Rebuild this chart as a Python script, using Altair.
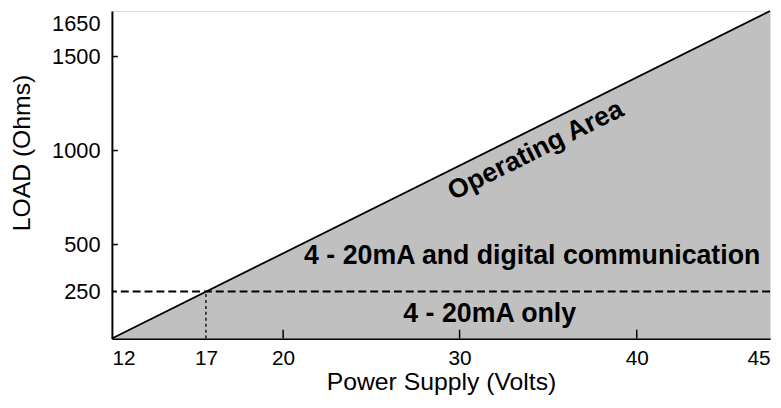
import altair as alt
import pandas as pd

# ---- data ----
volts = [12, 45]
load = [0, 1650]
threshold_volts = 17
threshold_load = 250
x_ticks = [12, 17, 20, 30, 40, 45]
y_ticks = [250, 500, 1000, 1500, 1650]
inner_x_ticks = [20, 30, 40]
inner_y_ticks = [500, 1000, 1500]
region_labels = ["Operating Area", "4 - 20mA and digital communication", "4 - 20mA only"]
region_x = [34.3, 34.1, 31.7]
region_y = [1000, 395, 88]
region_angle = [333.5, 0, 0]
region_baseline = ["middle", "alphabetic", "alphabetic"]

W, H = 665, 331
FONT = "Liberation Sans, Arial, Helvetica, sans-serif"

xscale = alt.Scale(domain=[12, 17, 20, 30, 40, 45], range=[0, 95, 173, 351.3, 530.3, W])
yscale = alt.Scale(domain=[0, 1500, 1650], range=[H, 46, 0])

line_df = pd.DataFrame({"v": volts, "load": load})

xaxis = alt.Axis(values=x_ticks, format="d", ticks=False, tickSize=0, grid=False, domainColor="black",
                 domainWidth=2, labelFont=FONT, labelFontSize=21, labelColor="black",
                 labelPadding=9, labelFlush=True, labelOverlap=False,
                 title="Power Supply (Volts)", titleFont=FONT, titleFontSize=25,
                 titleFontWeight="normal", titleColor="black", titleY=51,
                 titleBaseline="alphabetic")
yaxis = alt.Axis(values=y_ticks, format="d", ticks=False, tickSize=0, grid=False, domainColor="black",
                 domainWidth=2, labelFont=FONT, labelFontSize=22, labelColor="black",
                 labelPadding=12, labelOverlap=False, labelBaseline="middle",
                 labelOffset={"condition": {"test": "datum.value == 1650", "value": 13}, "value": 0},
                 title="LOAD (Ohms)", titleFont=FONT, titleFontSize=25,
                 titleFontWeight="normal", titleColor="black", titleAngle=270,
                 titleAlign="center", titleBaseline="middle", titleX=-91, titleY=143)

area = alt.Chart(line_df).mark_area(color="#c0c0c0", opacity=1).encode(
    x=alt.X("v:Q", scale=xscale, axis=xaxis),
    y=alt.Y("load:Q", scale=yscale, axis=yaxis),
)
diag = alt.Chart(line_df).mark_line(color="black", strokeWidth=1.8).encode(
    x=alt.X("v:Q", scale=xscale), y=alt.Y("load:Q", scale=yscale)
)

hdash = alt.Chart(pd.DataFrame({"load": [threshold_load]})).mark_rule(
    color="black", strokeWidth=2, strokeDash=[8, 4]
).encode(y=alt.Y("load:Q", scale=yscale))

vdot = alt.Chart(pd.DataFrame({"v": [threshold_volts], "y0": [0], "y1": [threshold_load]})).mark_rule(
    color="black", strokeWidth=1.3, strokeDash=[3, 3]
).encode(x=alt.X("v:Q", scale=xscale), y=alt.Y("y0:Q", scale=yscale), y2="y1:Q")

xt = alt.Chart(pd.DataFrame({"v": inner_x_ticks})).mark_rule(color="black", strokeWidth=1.5).encode(
    x=alt.X("v:Q", scale=xscale), y=alt.value(H), y2=alt.value(H - 9)
)
yt = alt.Chart(pd.DataFrame({"load": inner_y_ticks})).mark_rule(color="black", strokeWidth=1.5).encode(
    y=alt.Y("load:Q", scale=yscale), x=alt.value(0), x2=alt.value(6)
)

lab_df = pd.DataFrame({"t": region_labels, "v": region_x, "load": region_y,
                       "a": region_angle, "b": region_baseline})
texts = []
for i in range(len(region_labels)):
    texts.append(
        alt.Chart(lab_df.iloc[[i]]).mark_text(
            font=FONT, fontSize=27, fontWeight="bold", color="black", align="center",
            baseline=region_baseline[i], angle=region_angle[i]
        ).encode(x=alt.X("v:Q", scale=xscale), y=alt.Y("load:Q", scale=yscale), text="t:N")
    )

chart = alt.layer(area, diag, hdash, vdot, xt, yt, *texts).properties(
    width=W, height=H,
    autosize=alt.AutoSizeParams(type="none"),
    padding={"left": 105, "top": 1, "right": 3, "bottom": 56},
).configure_view(stroke="black", strokeWidth=2).configure(background="white")

chart.save("out.html", embed_options={"renderer": "svg", "actions": False})
